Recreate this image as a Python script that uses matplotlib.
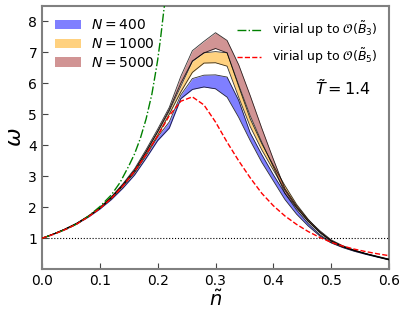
import numpy as np
import matplotlib
matplotlib.use('Agg')
import matplotlib.pyplot as plt

# densité réduite (grille commune des bandes)
n_grid = [0.00, 0.02, 0.04, 0.06, 0.08, 0.10, 0.12, 0.14, 0.16, 0.18,
          0.20, 0.22, 0.24, 0.26, 0.28, 0.30, 0.32, 0.34, 0.36, 0.38,
          0.40, 0.42, 0.44, 0.46, 0.48, 0.50, 0.52, 0.54, 0.56, 0.58, 0.60]

# N = 400
w400_lo = [1.00, 1.13, 1.28, 1.46, 1.68, 1.94, 2.25, 2.62, 3.04, 3.58,
           4.15, 4.55, 5.50, 5.80, 5.88, 5.82, 5.55, 4.90, 4.15, 3.45,
           2.85, 2.25, 1.78, 1.40, 1.08, 0.85, 0.70, 0.58, 0.48, 0.39, 0.30]
w400_hi = [1.00, 1.14, 1.29, 1.47, 1.70, 1.97, 2.29, 2.68, 3.11, 3.66,
           4.27, 4.75, 5.62, 6.15, 6.26, 6.27, 6.20, 5.45, 4.40, 3.70,
           3.05, 2.45, 1.92, 1.48, 1.12, 0.87, 0.72, 0.60, 0.50, 0.40, 0.31]
# N = 1000
w1000_lo = [1.00, 1.14, 1.29, 1.47, 1.70, 1.97, 2.30, 2.70, 3.14, 3.72,
            4.32, 5.00, 5.72, 6.35, 6.65, 6.66, 6.55, 5.55, 4.60, 3.85,
            3.20, 2.55, 2.00, 1.55, 1.18, 0.90, 0.73, 0.61, 0.50, 0.40, 0.31]
w1000_hi = [1.00, 1.14, 1.30, 1.48, 1.71, 1.98, 2.32, 2.73, 3.19, 3.78,
            4.42, 5.10, 5.90, 6.70, 6.98, 7.02, 6.98, 5.90, 4.85, 4.05,
            3.35, 2.70, 2.10, 1.62, 1.22, 0.92, 0.74, 0.61, 0.50, 0.41, 0.32]
# N = 5000
w5000_lo = [1.00, 1.14, 1.30, 1.48, 1.71, 1.98, 2.32, 2.73, 3.19, 3.80,
            4.45, 5.15, 6.00, 6.72, 6.98, 7.12, 6.98, 5.95, 4.95, 4.10,
            3.30, 2.45, 1.98, 1.55, 1.20, 0.92, 0.74, 0.61, 0.50, 0.41, 0.32]
w5000_hi = [1.00, 1.14, 1.30, 1.49, 1.72, 1.99, 2.34, 2.76, 3.24, 3.86,
            4.52, 5.22, 6.22, 7.05, 7.35, 7.63, 7.38, 6.60, 5.60, 4.55,
            3.55, 2.60, 2.05, 1.60, 1.25, 0.95, 0.76, 0.62, 0.51, 0.42, 0.33]

# développement du viriel jusqu'à B3
n_b3 = [0.00, 0.02, 0.04, 0.06, 0.08, 0.10, 0.12, 0.135, 0.15, 0.16,
        0.17, 0.18, 0.19, 0.196, 0.20, 0.205, 0.21, 0.215]
w_b3 = [1.00, 1.13, 1.28, 1.46, 1.71, 2.02, 2.40, 2.80, 3.33, 3.72,
        4.22, 4.85, 5.65, 6.30, 6.75, 7.45, 8.25, 9.00]

# développement du viriel jusqu'à B5
n_b5 = n_grid
w_b5 = [1.00, 1.13, 1.28, 1.46, 1.69, 1.96, 2.29, 2.69, 3.16, 3.70,
        4.30, 4.95, 5.42, 5.56, 5.30, 4.75, 4.10, 3.50, 2.95, 2.45,
        2.05, 1.72, 1.45, 1.22, 1.03, 0.87, 0.75, 0.65, 0.57, 0.50, 0.44]

bands = [('$N=400$', w400_lo, w400_hi, 'blue'),
         ('$N=1000$', w1000_lo, w1000_hi, 'orange'),
         ('$N=5000$', w5000_lo, w5000_hi, 'brown')]

fig = plt.figure(figsize=(4.07, 3.17), dpi=100)
ax = fig.add_axes([0.1032, 0.1505, 0.8526, 0.8315])

ax.axhline(1.0, color='k', ls=':', lw=0.8, zorder=1)

handles_n = []
for label, lo, hi, col in bands:
    h = ax.fill_between(n_grid, lo, hi, color=col, alpha=0.5, lw=0, label=label, zorder=2)
    ax.plot(n_grid, lo, color='k', lw=0.6, alpha=0.8, zorder=3)
    ax.plot(n_grid, hi, color='k', lw=0.6, alpha=0.8, zorder=3)
    handles_n.append(h)

l3, = ax.plot(n_b3, w_b3, color='green', ls='-.', lw=1.0, zorder=4,
              label=r'virial up to $\mathcal{O}(\tilde{B}_3)$')
l5, = ax.plot(n_b5, w_b5, color='red', ls='--', lw=1.0, zorder=4,
              label=r'virial up to $\mathcal{O}(\tilde{B}_5)$')

leg1 = ax.legend(handles=handles_n, loc='upper left', frameon=False, fontsize=10,
                 handlelength=1.9, handleheight=0.65, labelspacing=0.35,
                 handletextpad=0.75, bbox_to_anchor=(0.0, 1.0))
ax.add_artist(leg1)
ax.legend(handles=[l3, l5], loc='upper right', frameon=False, fontsize=9,
          handlelength=1.9, labelspacing=0.6, handletextpad=0.9,
          bbox_to_anchor=(1.0, 0.99))

ax.text(0.867, 0.688, r'$\tilde{T}=1.4$', transform=ax.transAxes, fontsize=11.5,
        ha='center', va='center')

ax.set_xlim(0, 0.6)
ax.set_ylim(0, 8.5)
ax.set_xticks([0.0, 0.1, 0.2, 0.3, 0.4, 0.5, 0.6])
ax.set_yticks([1, 2, 3, 4, 5, 6, 7, 8])
ax.tick_params(direction='in', length=4, labelsize=10, color='#444444')
ax.set_xlabel(r'$\tilde{n}$', fontsize=14, labelpad=1)
ax.set_ylabel(r'$\omega$', fontsize=16, labelpad=2)
for s in ax.spines.values():
    s.set_color('gray')
    s.set_linewidth(1.5)

plt.savefig('out.png', dpi=100)
